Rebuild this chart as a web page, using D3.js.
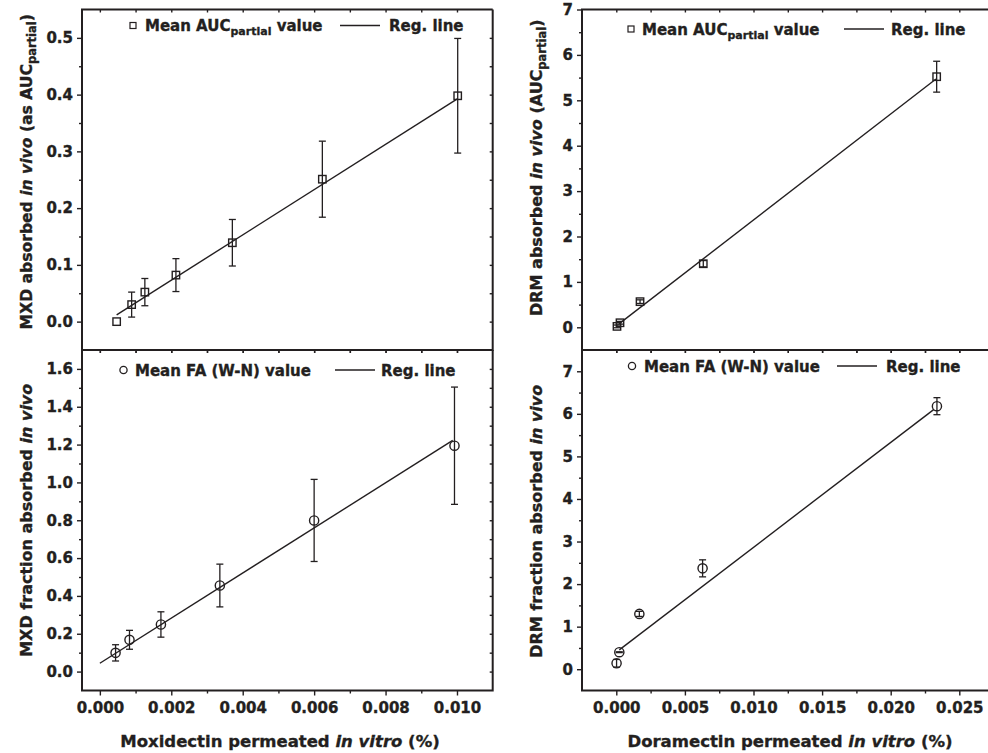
<!DOCTYPE html>
<html lang="en">
<head>
<meta charset="utf-8">
<title>MXD / DRM in vitro - in vivo correlation</title>
<script src="https://cdn.jsdelivr.net/npm/d3@7"></script>
<style>
  body { margin: 0; background: #fff; }
  svg text { font-family: "DejaVu Sans", Verdana, sans-serif; font-weight: bold; fill: #231f20;
             stroke: #231f20; stroke-width: 0.35px; }
  .tick line { stroke: #231f20; stroke-width: 1.4; }
  .frame { fill: none; stroke: #231f20; stroke-width: 2; }
</style>
</head>
<body>
<div id="chart"></div>
<script>

// moxidectin, AUC partial (top left)
var mxdAucX   = [0.00047, 0.00089, 0.00126, 0.00213, 0.00371, 0.00623, 0.01002];
var mxdAucY   = [0.0, 0.030, 0.052, 0.082, 0.139, 0.251, 0.398];
var mxdAucErr = [0, 0.022, 0.024, 0.029, 0.041, 0.067, 0.101];
var mxdAucRegX = [0.00047, 0.01002];
var mxdAucRegY = [0.012, 0.393];

// moxidectin, fraction absorbed (bottom left)
var mxdFaX   = [0.00044, 0.00083, 0.00171, 0.00336, 0.0060, 0.00993];
var mxdFaY   = [0.099, 0.168, 0.249, 0.455, 0.799, 1.194];
var mxdFaErr = [0.043, 0.05, 0.067, 0.113, 0.217, 0.31];
var mxdFaRegX = [0, 0.00988];
var mxdFaRegY = [0.044, 1.222];

// doramectin, AUC partial (top right)
var drmAucX   = [0.00005, 0.00027, 0.00173, 0.00634, 0.02335];
var drmAucY   = [0.02, 0.10, 0.565, 1.40, 5.52];
var drmAucErr = [0.03, 0.03, 0.04, 0.07, 0.34];
var drmAucRegX = [0.00022, 0.0233];
var drmAucRegY = [0.08, 5.47];

// doramectin, fraction absorbed (bottom right)
var drmFaX   = [0.00002, 0.00022, 0.00168, 0.00629, 0.02337];
var drmFaY   = [0.14, 0.40, 1.30, 2.37, 6.18];
var drmFaErr = [0.09, 0.01, 0.06, 0.2, 0.2];
var drmFaRegX = [0.00022, 0.02313];
var drmFaRegY = [0.455, 6.10];

// tick labels
var mxdXTicks = ["0.000", "0.002", "0.004", "0.006", "0.008", "0.010"];
var drmXTicks = ["0.000", "0.005", "0.010", "0.015", "0.020", "0.025"];
var mxdAucYTicks = ["0.0", "0.1", "0.2", "0.3", "0.4", "0.5"];
var mxdFaYTicks  = ["0.0", "0.2", "0.4", "0.6", "0.8", "1.0", "1.2", "1.4", "1.6"];
var drmAucYTicks = ["0", "1", "2", "3", "4", "5", "6", "7"];
var drmFaYTicks  = ["0", "1", "2", "3", "4", "5", "6", "7"];

var W = 988, H = 753;
var ink = "#231f20";

var svg = d3.select("#chart").append("svg")
    .attr("width", W).attr("height", H);

// minor ticks half way between majors
function minors(major) {
    var out = [];
    var step = major[1] - major[0];
    for (var i = 0; i < major.length; i++) {
        out.push(major[i] - step / 2);
    }
    out.push(major[major.length - 1] + step / 2);
    return out;
}

function panel(p) {
    var x = d3.scaleLinear().domain(p.xDomain).range(p.xRange);
    var y = d3.scaleLinear().domain(p.yDomain).range(p.yRange);
    var xMaj = p.xTicks.map(Number), yMaj = p.yTicks.map(Number);
    var xMin = minors(xMaj).filter(function(v) { return v > p.xDomain[0] && v < p.xDomain[1]; });
    var yMin = minors(yMaj).filter(function(v) { return v > p.yDomain[0] && v < p.yDomain[1]; });
    var g = svg.append("g");
    var left = p.xRange[0], right = p.xRange[1], top = p.yRange[1], bottom = p.yRange[0];

    // left axis, outward ticks
    var yl = g.append("g").attr("transform", "translate(" + left + ",0)")
        .call(d3.axisLeft(y).tickValues(yMaj).tickSize(5).tickPadding(4)
            .tickFormat(function(d, i) { return p.yTicks[i]; }));
    yl.append("g").call(d3.axisLeft(y).tickValues(yMin).tickSize(3).tickFormat(""));
    yl.selectAll(".domain").remove();
    yl.selectAll("text").style("font-size", "15px").attr("fill", ink);

    // right mirror ticks (inward)
    if (p.rightTicks) {
        var yr = g.append("g").attr("transform", "translate(" + right + ",0)")
            .call(d3.axisRight(y).tickValues(yMaj.concat(yMin)).tickSize(-3).tickFormat(""));
        yr.selectAll(".domain").remove();
    }

    // bottom axis
    var xb = g.append("g").attr("transform", "translate(0," + bottom + ")")
        .call(d3.axisBottom(x).tickValues(xMaj).tickSize(p.xLabels ? 5 : 3).tickPadding(7)
            .tickFormat(function(d, i) { return p.xLabels ? p.xTicks[i] : ""; }));
    xb.append("g").call(d3.axisBottom(x).tickValues(xMin).tickSize(3).tickFormat(""));
    xb.selectAll(".domain").remove();
    xb.selectAll("text").style("font-size", "15px").attr("fill", ink);

    // top mirror ticks (inward)
    var xt = g.append("g").attr("transform", "translate(0," + top + ")")
        .call(d3.axisTop(x).tickValues(xMaj.concat(xMin)).tickSize(-3).tickFormat(""));
    xt.selectAll(".domain").remove();

    // frame
    g.append("path").attr("class", "frame")
        .attr("d", "M" + right + "," + top + "H" + left + "V" + bottom + "H" + right +
            (p.rightTicks ? "V" + top : ""));

    // regression line
    g.append("line")
        .attr("x1", x(p.regX[0])).attr("y1", y(p.regY[0]))
        .attr("x2", x(p.regX[1])).attr("y2", y(p.regY[1]))
        .attr("stroke", ink).attr("stroke-width", 1.4);

    var idx = d3.range(p.xs.length);

    // error bars
    var eb = g.append("g").attr("stroke", ink).attr("stroke-width", 1.3).attr("fill", "none");
    idx.forEach(function(i) {
        if (!p.err[i]) return;
        var cx = x(p.xs[i]), y1 = y(p.ys[i] + p.err[i]), y2 = y(p.ys[i] - p.err[i]);
        eb.append("line").attr("x1", cx).attr("x2", cx).attr("y1", y1).attr("y2", y2);
        eb.append("line").attr("x1", cx - 3.5).attr("x2", cx + 3.5).attr("y1", y1).attr("y2", y1);
        eb.append("line").attr("x1", cx - 3.5).attr("x2", cx + 3.5).attr("y1", y2).attr("y2", y2);
    });

    // markers
    var mk = g.append("g").attr("stroke", ink).attr("stroke-width", 1.4).attr("fill", "none");
    idx.forEach(function(i) {
        var cx = x(p.xs[i]), cy = y(p.ys[i]);
        if (p.shape === "square") {
            mk.append("rect").attr("x", cx - 3.7).attr("y", cy - 3.7).attr("width", 7.4).attr("height", 7.4);
        } else {
            mk.append("circle").attr("cx", cx).attr("cy", cy).attr("r", 4.6);
        }
    });

    // legend
    var lg = g.append("g");
    if (p.shape === "square") {
        lg.append("rect").attr("x", p.leg.sx - 3).attr("y", p.leg.sy - 3).attr("width", 6).attr("height", 6)
            .attr("fill", "none").attr("stroke", ink).attr("stroke-width", 1.2);
    } else {
        lg.append("circle").attr("cx", p.leg.sx).attr("cy", p.leg.sy).attr("r", 3.6)
            .attr("fill", "none").attr("stroke", ink).attr("stroke-width", 1.3);
    }
    var lt = lg.append("text").attr("x", p.leg.tx).attr("y", p.leg.base).style("font-size", "15px");
    p.leg.parts.forEach(function(part) {
        var s = lt.append("tspan").text(part.t);
        if (part.sub) s.attr("dy", 4).style("font-size", "11px");
        if (part.up) s.attr("dy", -4);
    });
    lg.append("line").attr("x1", p.leg.lx1).attr("x2", p.leg.lx2)
        .attr("y1", p.leg.sy).attr("y2", p.leg.sy).attr("stroke", ink).attr("stroke-width", 1.4);
    lg.append("text").attr("x", p.leg.rx).attr("y", p.leg.base).style("font-size", "15px").text("Reg. line");

    // y title
    var yt = g.append("text").attr("transform", "translate(" + p.yTitle.x + "," + ((top + bottom) / 2 + p.yTitle.dy) + ") rotate(-90)")
        .attr("text-anchor", "middle").style("font-size", p.yTitle.size);
    p.yTitle.parts.forEach(function(part) {
        var s = yt.append("tspan").text(part.t);
        if (part.it) s.style("font-style", "italic");
        if (part.sub) s.attr("dy", 4).style("font-size", "11.5px");
        if (part.up) s.attr("dy", -4);
    });

    // x title
    if (p.xTitle) {
        var xtt = g.append("text").attr("x", p.xTitle.x).attr("y", 747)
            .attr("text-anchor", "middle").style("font-size", "16.5px");
        p.xTitle.parts.forEach(function(part) {
            var s = xtt.append("tspan").text(part.t);
            if (part.it) s.style("font-style", "italic");
        });
    }
}

var leftX = [82, 492.7], rightX = [582, 993.6];
var topY = [350, 9.5], botY = [690.5, 350];

panel({
    xDomain: [-0.0005, 0.011], xRange: leftX, yDomain: [-0.05, 0.55], yRange: topY,
    xTicks: mxdXTicks, yTicks: mxdAucYTicks, xLabels: false, rightTicks: true,
    xs: mxdAucX, ys: mxdAucY, err: mxdAucErr, regX: mxdAucRegX, regY: mxdAucRegY, shape: "square",
    leg: { sx: 133, sy: 25.5, tx: 145, base: 31, lx1: 340, lx2: 380, rx: 389,
        parts: [{t: "Mean AUC"}, {t: "partial", sub: true}, {t: " value", up: true}] },
    yTitle: { x: 32, dy: -8, size: "15.6px", parts: [{t: "MXD absorbed "}, {t: "in vivo", it: true}, {t: " (as AUC"}, {t: "partial", sub: true}, {t: ")", up: true}] }
});

panel({
    xDomain: [-0.0005, 0.011], xRange: leftX, yDomain: [-0.1, 1.7], yRange: botY,
    xTicks: mxdXTicks, yTicks: mxdFaYTicks, xLabels: true, rightTicks: true,
    xs: mxdFaX, ys: mxdFaY, err: mxdFaErr, regX: mxdFaRegX, regY: mxdFaRegY, shape: "circle",
    leg: { sx: 123.5, sy: 370, tx: 135, base: 375.5, lx1: 335, lx2: 375, rx: 381,
        parts: [{t: "Mean FA (W-N) value"}] },
    yTitle: { x: 32, dy: 0, size: "16px", parts: [{t: "MXD fraction absorbed "}, {t: "in vivo", it: true}] },
    xTitle: { x: 280, parts: [{t: "Moxidectin permeated "}, {t: "in vitro", it: true}, {t: " (%)"}] }
});

panel({
    xDomain: [-0.0025, 0.0275], xRange: rightX, yDomain: [-0.5, 7], yRange: topY,
    xTicks: drmXTicks, yTicks: drmAucYTicks, xLabels: false, rightTicks: false,
    xs: drmAucX, ys: drmAucY, err: drmAucErr, regX: drmAucRegX, regY: drmAucRegY, shape: "square",
    leg: { sx: 631, sy: 29, tx: 642, base: 34.5, lx1: 844, lx2: 884, rx: 891,
        parts: [{t: "Mean AUC"}, {t: "partial", sub: true}, {t: " value", up: true}] },
    yTitle: { x: 542, dy: -12, size: "16px", parts: [{t: "DRM absorbed "}, {t: "in vivo", it: true}, {t: " (AUC"}, {t: "partial", sub: true}, {t: ")", up: true}] }
});

panel({
    xDomain: [-0.0025, 0.0275], xRange: rightX, yDomain: [-0.5, 7.5], yRange: botY,
    xTicks: drmXTicks, yTicks: drmFaYTicks, xLabels: true, rightTicks: false,
    xs: drmFaX, ys: drmFaY, err: drmFaErr, regX: drmFaRegX, regY: drmFaRegY, shape: "circle",
    leg: { sx: 632, sy: 366, tx: 644, base: 371.5, lx1: 837, lx2: 877, rx: 886,
        parts: [{t: "Mean FA (W-N) value"}] },
    yTitle: { x: 542, dy: 1, size: "16px", parts: [{t: "DRM fraction absorbed "}, {t: "in vivo", it: true}] },
    xTitle: { x: 790, parts: [{t: "Doramectin permeated "}, {t: "in vitro", it: true}, {t: " (%)"}] }
});

</script>
</body>
</html>
